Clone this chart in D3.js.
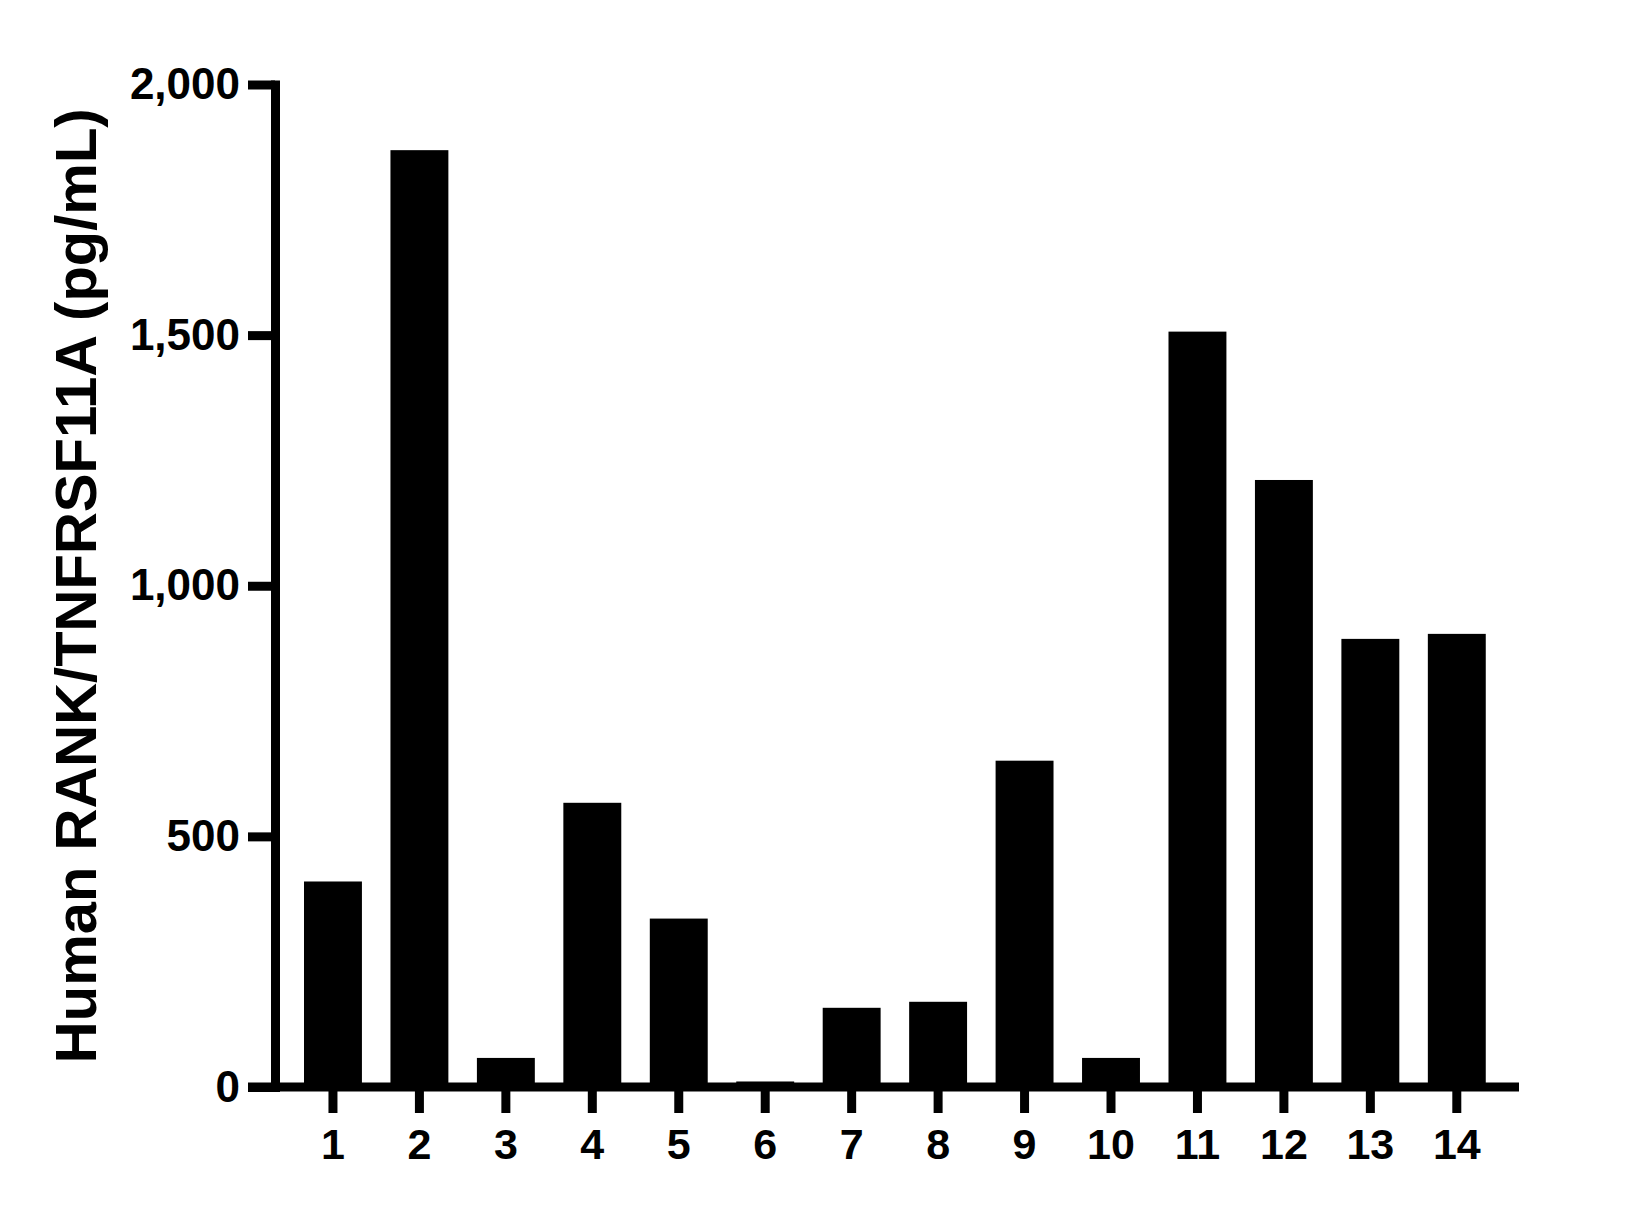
<!DOCTYPE html>
<html>
<head>
<meta charset="utf-8">
<script src="https://cdn.jsdelivr.net/npm/d3@7"></script>
<style>
  body { margin: 0; background: #fff; }
  text { font-family: "Liberation Sans", Arial, sans-serif; }
</style>
</head>
<body>
<svg id="chart" width="1649" height="1209"></svg>
<script>
// data
const samples = ["1","2","3","4","5","6","7","8","9","10","11","12","13","14"];
const values = [410, 1869, 58, 567, 336, 11, 158, 170, 651, 58, 1507, 1211, 894, 904];
const yTicks = [0, 500, 1000, 1500, 2000];
const yLabel = "Human RANK/TNFRSF11A (pg/mL)";

const svg = d3.select("#chart");
const lineW = 9, tickLen = 27;

const y = d3.scaleLinear()
  .domain([0, 2000])
  .range([1087, 84.5]);

const x = d3.scaleBand()
  .domain(samples)
  .range([275, 1519])
  .paddingInner(0.33)
  .paddingOuter(0.36)
  .align(0.466);

// bars
svg.append("g")
  .selectAll("rect")
  .data(values)
  .join("rect")
    .attr("x", (d, i) => x(samples[i]))
    .attr("width", x.bandwidth())
    .attr("y", d => y(d))
    .attr("height", d => y(0) - y(d))
    .attr("fill", "#000");

// y axis
const yAxis = svg.append("g")
  .attr("transform", `translate(${x.range()[0]},0)`)
  .call(d3.axisLeft(y)
    .tickValues(yTicks)
    .tickSize(tickLen)
    .tickSizeOuter(0)
    .tickPadding(8)
    .tickFormat(d3.format(",")));

yAxis.select(".domain")
  .attr("stroke-width", lineW)
  .attr("stroke-linecap", "square");
yAxis.selectAll(".tick line").attr("stroke-width", lineW);
yAxis.selectAll(".tick text")
  .style("font-size", "44px")
  .style("font-weight", "bold")
  .attr("fill", "#000");

// x axis
const xAxis = svg.append("g")
  .attr("transform", `translate(0,${y(0)})`)
  .call(d3.axisBottom(x)
    .tickSize(26)
    .tickSizeOuter(0)
    .tickPadding(15));

xAxis.select(".domain").remove();
xAxis.append("line")
  .attr("x1", x.range()[0] - tickLen)
  .attr("x2", x.range()[1])
  .attr("stroke", "#000")
  .attr("stroke-width", lineW);
xAxis.selectAll(".tick line").attr("stroke-width", lineW);
xAxis.selectAll(".tick text")
  .style("font-size", "43px")
  .style("font-weight", "bold")
  .attr("fill", "#000");

// y axis title
svg.append("text")
  .attr("transform", `translate(96,${(y(0) + y(2000)) / 2}) rotate(-90)`)
  .attr("text-anchor", "middle")
  .style("font-size", "58px")
  .style("font-weight", "bold")
  .attr("fill", "#000")
  .text(yLabel);
</script>
</body>
</html>
